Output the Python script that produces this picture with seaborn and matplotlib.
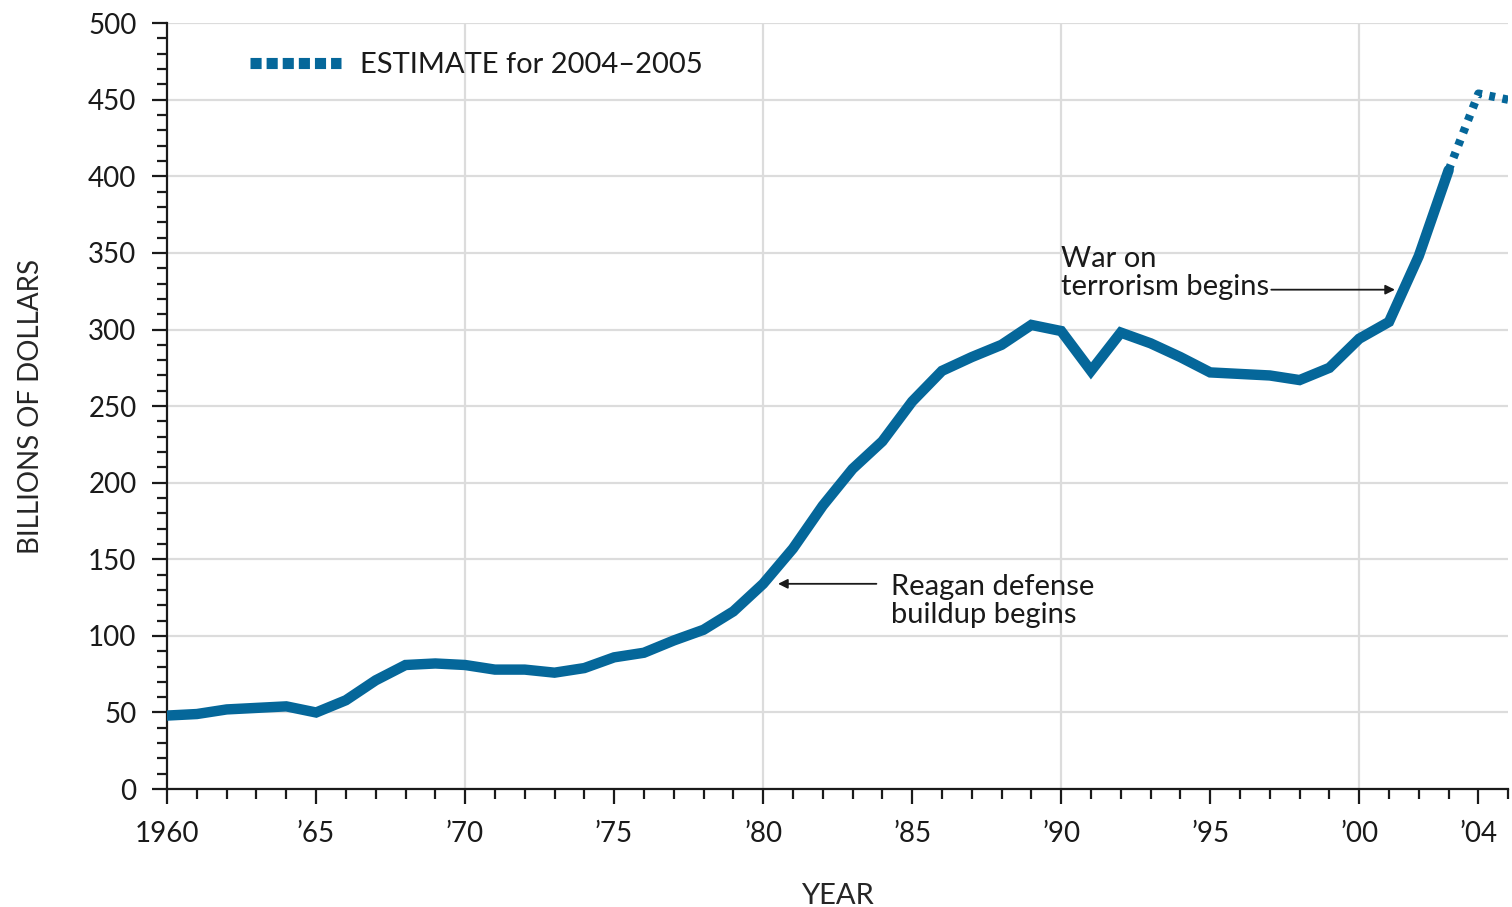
import matplotlib
matplotlib.use("Agg")
import matplotlib.pyplot as plt
from matplotlib.lines import Line2D
from matplotlib.ticker import MultipleLocator
import seaborn as sns
import pandas as pd

# defense outlays, billions of dollars
years = list(range(1960, 2004))
spending = [48, 49, 52, 53, 54, 50, 58, 71, 81, 82,
            81, 78, 78, 76, 79, 86, 89, 97, 104, 116,
            134, 157, 185, 209, 227, 253, 273, 282, 290, 303,
            299, 273, 298, 291, 282, 272, 271, 270, 267, 275,
            294, 305, 348, 404]
est_years = [2003, 2004, 2005]
est_spending = [404, 454, 450]

tick_years = [1960, 1965, 1970, 1975, 1980, 1985, 1990, 1995, 2000, 2004]
tick_labels = ["1960", "\u201965", "\u201970", "\u201975", "\u201980",
               "\u201985", "\u201990", "\u201995", "\u201900", "\u201904"]
grid_years = [1970, 1980, 1990, 2000]

LINE = "#05679a"
INK = "#1a1a1a"

sns.set_style("ticks")
plt.rcParams["font.family"] = ["Lato", "DejaVu Sans"]
plt.rcParams["text.color"] = INK

df = pd.DataFrame({"year": years, "spending": spending})
df_est = pd.DataFrame({"year": est_years, "spending": est_spending})

fig = plt.figure(figsize=(15.12, 9.07), dpi=100)
ax = fig.add_axes([0.1105, 0.130, 0.887, 0.8445])

sns.lineplot(data=df, x="year", y="spending", ax=ax, color=LINE,
             linewidth=7.5, solid_joinstyle="miter", zorder=3)
sns.lineplot(data=df_est, x="year", y="spending", ax=ax, color=LINE,
             linewidth=6, zorder=3)
ax.lines[-1].set_dashes((0.7, 0.9))
ax.lines[-1].set_dash_capstyle("butt")

ax.set_xlim(1960, 2005)
ax.set_ylim(0, 500)

ax.set_xticks(tick_years)
ax.set_xticklabels(tick_labels)
ax.xaxis.set_minor_locator(MultipleLocator(1))
ax.yaxis.set_major_locator(MultipleLocator(50))
ax.yaxis.set_minor_locator(MultipleLocator(10))

ax.tick_params(axis="both", which="major", length=11, width=1.6,
               color=INK, labelsize=20, labelcolor=INK)
ax.tick_params(axis="both", which="minor", length=7, width=1.6, color=INK)
ax.tick_params(axis="x", which="major", pad=12)
ax.tick_params(axis="y", which="major", pad=11)

ax.grid(axis="y", which="major", color="#dcdcdc", linewidth=1.6, zorder=0)
for g in grid_years:
    ax.axvline(g, color="#dcdcdc", linewidth=1.6, zorder=0)

sns.despine(ax=ax)
for side in ("left", "bottom"):
    ax.spines[side].set_color(INK)
    ax.spines[side].set_linewidth(1.6)

ax.set_xlabel("YEAR", fontsize=21, labelpad=26)
ax.set_ylabel("BILLIONS OF DOLLARS", fontsize=20, labelpad=32)

# annotations
ax.annotate("", xy=(1980.5, 134), xytext=(1983.8, 134),
            arrowprops=dict(arrowstyle="-|>", color=INK, lw=1.3,
                            mutation_scale=14, shrinkA=0, shrinkB=0))
ax.text(1984.3, 123, "Reagan defense\nbuildup begins", fontsize=21,
        va="center", ha="left", linespacing=1.1)
ax.annotate("", xy=(2001.2, 326), xytext=(1997.05, 326),
            arrowprops=dict(arrowstyle="-|>", color=INK, lw=1.3,
                            mutation_scale=14, shrinkA=0, shrinkB=0))
ax.text(1990.0, 337, "War on\nterrorism begins", fontsize=21,
        va="center", ha="left", linespacing=1.1)

handle = Line2D([], [], color=LINE, linewidth=8, dashes=(1.0, 0.45),
                dash_capstyle="butt")
ax.legend(handles=[handle], labels=["ESTIMATE for 2004\u20132005"],
          loc="upper left", bbox_to_anchor=(0.062, 0.962), frameon=False,
          fontsize=21, handlelength=3.1, handletextpad=0.65,
          borderpad=0, borderaxespad=0)

fig.savefig("out.png", dpi=100)
